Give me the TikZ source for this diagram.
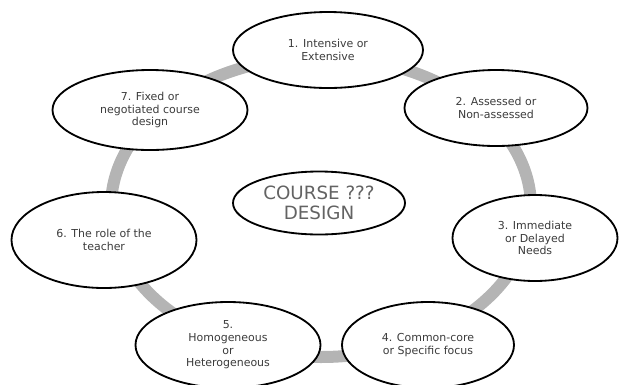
\documentclass[tikz,border=0pt]{standalone}
\usepackage{fontspec}
\setmainfont{DejaVu Sans}
\usetikzlibrary{shapes.geometric}
\definecolor{ringgray}{RGB}{180,180,180}
\definecolor{textgray}{RGB}{60,60,60}
\tikzset{
  stage/.style={ellipse, draw=black, line width=1.3pt, fill=white, inner sep=0pt,
    align=center, text=textgray, font=\fontsize{7.8}{9}\selectfont},
  hub/.style={stage, text=textgray!80, font=\fontsize{13}{14}\selectfont}
}
\begin{document}
\begin{tikzpicture}[x=0.025cm, y=-0.025cm]
\pgfmathsetlengthmacro\px{0.025cm};
\useasboundingbox (0,0) rectangle (620,384);
% ring behind the stages
\draw[ringgray, line width=12*\px] (321,207) ellipse [x radius=210, y radius=150];
\foreach \n/\x/\y/\w/\h/\txt in {
  1/328/50/190/76/{1. Intensive or\\Extensive},
  2/496/108/183/76/{2. Assessed or\\Non-assessed},
  3/535/238/165/86/{3. Immediate\\or Delayed\\Needs},
  4/428/345/172/86/{4. Common-core\\or Specific focus},
  5/228/345/185/86/{5.\\Homogeneous\\or\\Heterogeneous},
  6/104/240/185/96/{6. The role of the\\teacher},
  7/150/110/195/80/{7. Fixed or\\negotiated course\\design}}
  \node[stage, minimum width=\w*\px, minimum height=\h*\px] (e\n) at (\x,\y) {\txt};
\node[hub, minimum width=172*\px, minimum height=63*\px] (core) at (319,203) {COURSE ???\\DESIGN};
\end{tikzpicture}
\end{document}
